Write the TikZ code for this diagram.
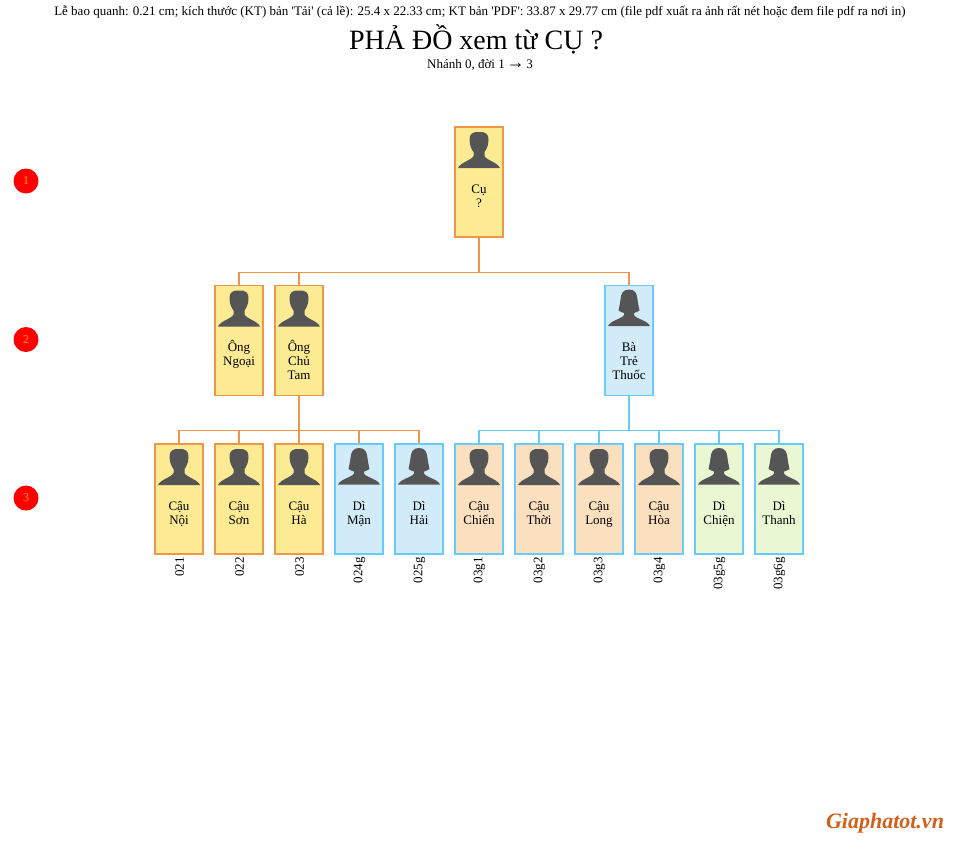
\documentclass[tikz,border=0pt]{standalone}
\usepackage{fontspec}
\newfontfamily\viefont{Liberation Serif}
\usepackage{tikz}
\usetikzlibrary{calc,positioning}
\definecolor{linkorange}{HTML}{F0964B}
\definecolor{linkblue}{HTML}{66CCFF}
\definecolor{fillyellow}{HTML}{FDEB93}
\definecolor{fillblue}{HTML}{D2EBF8}
\definecolor{fillpeach}{HTML}{FBE0BF}
\definecolor{fillgreen}{HTML}{E9F8D2}
\definecolor{figgray}{HTML}{555555}
\definecolor{sitecolor}{HTML}{D2601A}
\tikzset{
  person/.style={minimum width=48pt, minimum height=110pt, inner sep=0pt, line width=1.5pt, anchor=north},
  yellowbox/.style={person, draw=linkorange, fill=fillyellow},
  bluebox/.style={person, draw=linkblue, fill=fillblue},
  peachbox/.style={person, draw=linkblue, fill=fillpeach},
  greenbox/.style={person, draw=linkblue, fill=fillgreen},
  namenote/.style={font=\viefont\fontsize{13}{14}\selectfont, align=center, anchor=north, inner sep=0pt},
  idnote/.style={font=\viefont\fontsize{13}{14}\selectfont, rotate=90, anchor=east, inner sep=0pt},
  gennote/.style={circle, fill=red, minimum size=25pt, inner sep=0pt, text=orange!70!yellow, font=\viefont\fontsize{12}{14}\selectfont},
  link/.style={line width=1.2pt, linkorange},
  bluelink/.style={line width=1.2pt, linkblue},
  male/.pic={
    \fill[figgray] (0,6) .. controls (6,5.5) and (10,8) .. (9.5,14) .. controls (9.5,20) and (7,24) .. (5.5,26)
      -- (5.5,30) .. controls (7,34) and (18,36) .. (21,42) -- (-21,42)
      .. controls (-18,36) and (-7,34) .. (-5.5,30) -- (-5.5,26)
      .. controls (-7,24) and (-9.5,20) .. (-9.5,14) .. controls (-10,8) and (-6,5.5) .. (0,6) -- cycle;
  },
  female/.pic={
    \fill[figgray] (0,5) .. controls (6,5) and (8,9) .. (8.5,15) .. controls (9,20) and (10,23) .. (10.5,26)
      .. controls (9,27.5) and (6,28) .. (5,28.5) -- (5,30.5) .. controls (7,34.5) and (18,35.5) .. (21,41.5) -- (-21,41.5)
      .. controls (-18,35.5) and (-7,34.5) .. (-5,30.5) -- (-5,28.5)
      .. controls (-6,28) and (-9,27.5) .. (-10.5,26) .. controls (-10,23) and (-9,20) .. (-8.5,15)
      .. controls (-8,9) and (-6,5) .. (0,5) -- cycle;
  }
}

\begin{document}
\begin{tikzpicture}[x=1pt,y=-1pt]
  \useasboundingbox (0,0) rectangle (960,844);
  % headings
  \node[font=\viefont\fontsize{13}{14}\selectfont] (info) at (480,12) {Lễ bao quanh: 0.21 cm; kích thước (KT) bản 'Tải' (cả lề): 25.4 x 22.33 cm; KT bản 'PDF': 33.87 x 29.77 cm (file pdf xuất ra ảnh rất nét hoặc đem file pdf ra nơi in)};
  \node[font=\viefont\fontsize{28}{32}\selectfont] (title) at (476,39) {PHẢ ĐỒ xem từ CỤ ?};
  \node[font=\viefont\fontsize{13}{14}\selectfont] (sub) at (480,64.5) {Nhánh 0, đời 1\hspace{-1.5pt} {\fontsize{18}{14}\selectfont →}\hspace{-1.5pt} 3};
  % generation marks
  \foreach \g/\y in {1/181,2/339.5,3/498}{\node[gennote] (gen\g) at (26,\y) {\raisebox{-1pt}{\g}\hspace{3pt}};}
  % people, generations 1 and 2
  \foreach \id/\x/\y/\sty/\fig/\txt in {
    n0/479/126/yellowbox/male/{Cụ\\?},
    n01/239/284.5/yellowbox/male/{Ông\\Ngoại},
    n02/299/284.5/yellowbox/male/{Ông\\Chủ\\Tam},
    n03/629/284.5/bluebox/female/{Bà\\Trẻ\\Thuốc}}{
    \node[\sty] (\id) at (\x,\y) {};
    \pic at (\id.north) {\fig};
    \node[namenote] (\id t) at ($(\id.north)+(0,55)$) {\rule{0pt}{12pt}\txt};
  }
  % people, generation 3
  \foreach \id/\x/\sty/\fig/\txt/\code in {
    n021/179/yellowbox/male/{Cậu\\Nội}/021,
    n022/239/yellowbox/male/{Cậu\\Sơn}/022,
    n023/299/yellowbox/male/{Cậu\\Hà}/023,
    n024/359/bluebox/female/{Dì\\Mận}/024g,
    n025/419/bluebox/female/{Dì\\Hải}/025g,
    n031/479/peachbox/male/{Cậu\\Chiến}/03g1,
    n032/539/peachbox/male/{Cậu\\Thời}/03g2,
    n033/599/peachbox/male/{Cậu\\Long}/03g3,
    n034/659/peachbox/male/{Cậu\\Hòa}/03g4,
    n035/719/greenbox/female/{Dì\\Chiện}/03g5g,
    n036/779/greenbox/female/{Dì\\Thanh}/03g6g}{
    \node[\sty] (\id) at (\x,443) {};
    \pic at (\id.north) {\fig};
    \node[namenote] (\id t) at ($(\id.north)+(0,55)$) {\rule{0pt}{12pt}\txt};
    \node[idnote] (\id c) at ($(\id.south)+(0.5,2.5)$) {\code};
  }
  % connectors
  \coordinate (busa) at (0,272.5);
  \coordinate (busb) at (0,430.5);
  \draw[link] (n0.south) -- (n0.south |- busa);
  \foreach \c in {n01,n02,n03}{\draw[link] (n0.south |- busa) -| (\c.north);}
  \draw[link] (n02.south) -- (n02.south |- busb);
  \foreach \c in {n021,n022,n023,n024,n025}{\draw[link] (n02.south |- busb) -| (\c.north);}
  \draw[bluelink] (n03.south) -- (n03.south |- busb);
  \foreach \c in {n031,n032,n033,n034,n035,n036}{\draw[bluelink] (n03.south |- busb) -| (\c.north);}
  % site mark
  \node[font=\viefont\bfseries\itshape\fontsize{22}{24}\selectfont, text=sitecolor] (site) at (885,823.5) {Giaphatot.vn};
\end{tikzpicture}
\end{document}
